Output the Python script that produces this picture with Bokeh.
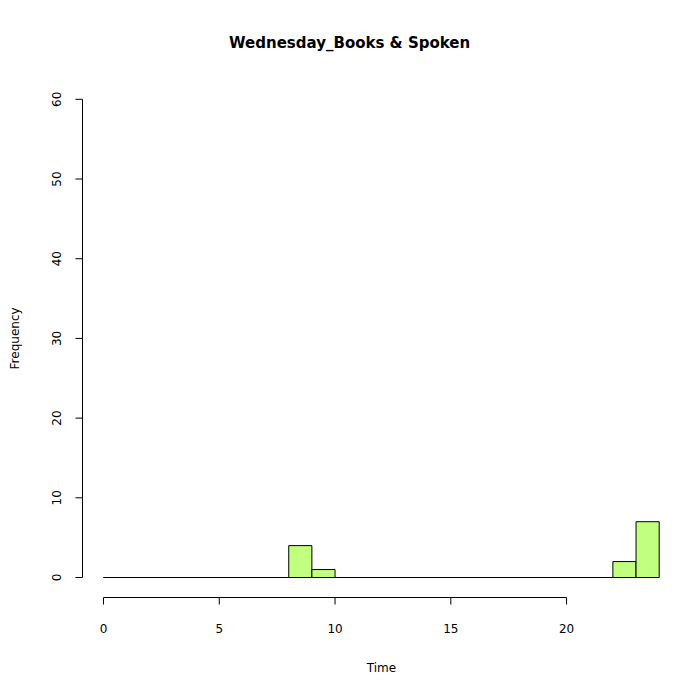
from bokeh.plotting import figure
from bokeh.embed import file_html
from bokeh.resources import INLINE
from bokeh.core.properties import value
from bokeh.models import Range1d

# histogram data (one-hour bins 0..24)
bin_left = list(range(24))
counts = [0, 0, 0, 0, 0, 0, 0, 0, 4, 1, 0, 0, 0, 0, 0, 0, 0, 0, 0, 0, 0, 0, 2, 7]
x_ticks = [0, 5, 10, 15, 20]
y_ticks = [0, 10, 20, 30, 40, 50, 60]

# ranges chosen so the frame covers the whole page like R's device
p = figure(width=683, height=683, output_backend="svg", toolbar_location=None,
           x_range=Range1d(-4.449, 25.05), y_range=Range1d(-13.30, 72.40),
           min_border=0)
p.axis.visible = False
p.grid.visible = False
p.outline_line_color = None

p.quad(left=bin_left, right=[b + 1 for b in bin_left], bottom=0, top=counts,
       fill_color="#C1FF7F", line_color="black", line_width=1)

font = value("DejaVu Sans")
# x axis
p.segment(x0=0, y0=-2.51, x1=20, y1=-2.51, line_color="black")
p.segment(x0=x_ticks, y0=-2.51, x1=x_ticks, y1=-3.39, line_color="black")
p.text(x=x_ticks, y=-6.4, text=[str(t) for t in x_ticks], text_align="center",
       text_baseline="middle", text_font=font, text_font_size="12px")
# y axis
p.segment(x0=-0.907, y0=0, x1=-0.907, y1=60, line_color="black")
p.segment(x0=-0.907, y0=y_ticks, x1=-1.21, y1=y_ticks, line_color="black")
p.text(x=-2.03, y=y_ticks, text=[str(t) for t in y_ticks], angle=1.5708,
       text_align="center", text_baseline="middle", text_font=font,
       text_font_size="12px")

p.text(x=[10.63], y=[67.1], text=["Wednesday_Books & Spoken"], text_align="center",
       text_baseline="middle", text_font=font, text_font_size="15px",
       text_font_style="bold")
p.text(x=[12], y=[-11.3], text=["Time"], text_align="center",
       text_baseline="middle", text_font=font, text_font_size="12px")
p.text(x=[-3.84], y=[30], text=["Frequency"], angle=1.5708, text_align="center",
       text_baseline="middle", text_font=font, text_font_size="12px")

open("out.html", "w").write(file_html(p, INLINE))
